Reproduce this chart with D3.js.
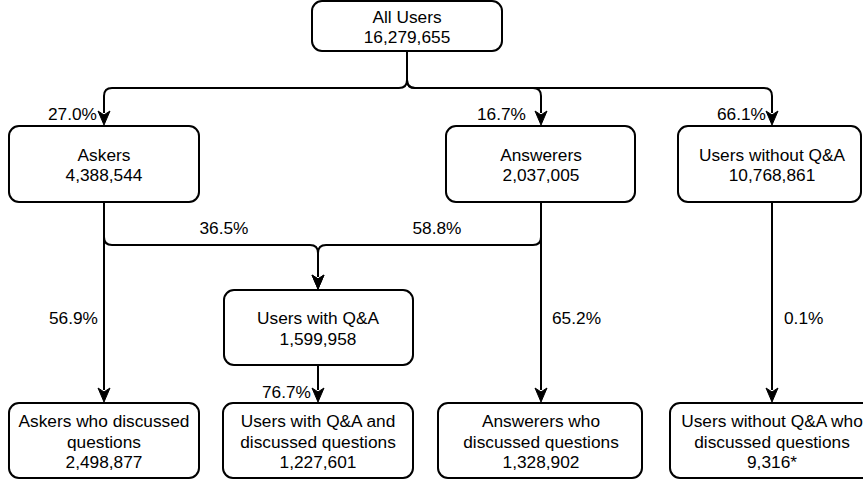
<!DOCTYPE html>
<html>
<head>
<meta charset="utf-8">
<script src="https://cdn.jsdelivr.net/npm/d3@7"></script>
<style>
  html, body { margin: 0; padding: 0; background: #ffffff; }
  svg { display: block; }
  text { font-family: "Liberation Sans", Arial, Helvetica, sans-serif; fill: #000; }
</style>
</head>
<body>
<svg id="chart" width="863" height="484"></svg>
<script>
// ---------------- DATA ----------------
const nodeLabels = [
  "All Users",
  "Askers",
  "Answerers",
  "Users without Q&A",
  "Users with Q&A",
  "Askers who discussed\nquestions",
  "Users with Q&A and\ndiscussed questions",
  "Answerers who\ndiscussed questions",
  "Users without Q&A who\ndiscussed questions"
];
const nodeCounts = [16279655, 4388544, 2037005, 10768861, 1599958, 2498877, 1227601, 1328902, 9316];
const nodeNotes  = ["", "", "", "", "", "", "", "", "*"];

const edgeSources  = [0, 0, 0, 1, 2, 1, 4, 2, 3];
const edgeTargets  = [1, 2, 3, 4, 4, 5, 6, 7, 8];
const edgePercents = [27.0, 16.7, 66.1, 36.5, 58.8, 56.9, 76.7, 65.2, 0.1];

// ---------------- LAYOUT ----------------
const columns = ["askers", "qa", "root", "answerers", "noqa"];
const colX = d3.scaleOrdinal().domain(columns).range([104, 318, 407, 541, 772]);
const rows = ["top", "mid", "qa", "bottom"];
const rowY = d3.scaleOrdinal().domain(rows).range([1, 126, 290, 403]);
const rowH = d3.scaleOrdinal().domain(rows).range([50, 76, 75, 75]);

const nodeLayout = [
  { col: "root",      row: "top",    dx: -95, w: 190 },
  { col: "askers",    row: "mid",    dx: -95, w: 190 },
  { col: "answerers", row: "mid",    dx: -95, w: 189 },
  { col: "noqa",      row: "mid",    dx: -94, w: 183 },
  { col: "qa",        row: "qa",     dx: -94, w: 189 },
  { col: "askers",    row: "bottom", dx: -95, w: 190 },
  { col: "qa",        row: "bottom", dx: -95, w: 190 },
  { col: "answerers", row: "bottom", dx: -103, w: 204 },
  { col: "noqa",      row: "bottom", dx: -102, w: 204 }
];
const busY = { root: 88, merge: 245 };
const edgeLabelLayout = [
  { anchor: "end",    x: 97,  y: 114 },
  { anchor: "end",    x: 526, y: 114 },
  { anchor: "end",    x: 766, y: 114 },
  { anchor: "middle", x: 224, y: 228 },
  { anchor: "middle", x: 437, y: 228 },
  { anchor: "end",    x: 98,  y: 318 },
  { anchor: "end",    x: 311, y: 392 },
  { anchor: "start",  x: 552, y: 318 },
  { anchor: "start",  x: 784, y: 318 }
];

const FONT = 17.3;
const STROKE = 2;
const fmt = d3.format(",");
const pctFmt = d3.format(".1f");

const svg = d3.select("#chart");

function box(i) {
  const L = nodeLayout[i];
  const cx = colX(L.col);
  const y = rowY(L.row);
  const h = rowH(L.row);
  return { cx, x: cx + L.dx, y, w: L.w, h, top: y, bottom: y + h };
}

function roundedPath(pts, r) {
  let d = `M${pts[0][0]},${pts[0][1]}`;
  for (let i = 1; i < pts.length - 1; i++) {
    const [x0, y0] = pts[i - 1], [x1, y1] = pts[i], [x2, y2] = pts[i + 1];
    const l1 = Math.hypot(x1 - x0, y1 - y0), l2 = Math.hypot(x2 - x1, y2 - y1);
    const rr = Math.min(r, l1 / 2, l2 / 2);
    const ax = x1 - (x1 - x0) / l1 * rr, ay = y1 - (y1 - y0) / l1 * rr;
    const bx = x1 + (x2 - x1) / l2 * rr, by = y1 + (y2 - y1) / l2 * rr;
    d += `L${ax},${ay}Q${x1},${y1} ${bx},${by}`;
  }
  const last = pts[pts.length - 1];
  d += `L${last[0]},${last[1]}`;
  return d;
}

// ---------------- EDGES ----------------
const HEAD_L = 14, HEAD_W = 12;
const edges = edgeSources.map((s, i) => ({ s, t: edgeTargets[i], p: edgePercents[i], i }));

function route(e) {
  const S = box(e.s), T = box(e.t);
  const tipY = T.top - 1;
  if (e.s === 0) {
    return [[S.cx, S.bottom], [S.cx, busY.root], [T.cx, busY.root], [T.cx, tipY]];
  } else if (e.t === 4) {
    return [[S.cx, S.bottom], [S.cx, busY.merge], [T.cx, busY.merge], [T.cx, tipY]];
  }
  return [[S.cx, S.bottom], [T.cx, tipY]];
}

const gEdges = svg.append("g");
edges.forEach(e => {
  const pts = route(e);
  const tip = pts[pts.length - 1];
  const linePts = pts.slice(0, -1).concat([[tip[0], tip[1] - HEAD_L + 2]]);
  gEdges.append("path")
    .attr("d", roundedPath(linePts, 8))
    .attr("fill", "none")
    .attr("stroke", "#000")
    .attr("stroke-width", STROKE);
  const [tx, ty] = tip;
  gEdges.append("path")
    .attr("d", `M${tx},${ty}L${tx - HEAD_W / 2},${ty - HEAD_L}L${tx},${ty - HEAD_L * 0.72}L${tx + HEAD_W / 2},${ty - HEAD_L}Z`)
    .attr("fill", "#000")
    .attr("stroke", "#000")
    .attr("stroke-width", 1)
    .attr("stroke-linejoin", "miter");
});

svg.append("g").selectAll("text")
  .data(edges)
  .join("text")
  .attr("x", d => edgeLabelLayout[d.i].x)
  .attr("y", d => edgeLabelLayout[d.i].y)
  .attr("text-anchor", d => edgeLabelLayout[d.i].anchor)
  .attr("dominant-baseline", "central")
  .attr("font-size", FONT)
  .text(d => pctFmt(d.p) + "%");

// ---------------- NODES ----------------
const nodes = nodeLabels.map((label, i) => ({
  i,
  lines: label.split("\n").concat([fmt(nodeCounts[i]) + nodeNotes[i]])
}));

const gNodes = svg.append("g").selectAll("g")
  .data(nodes)
  .join("g");

gNodes.append("rect")
  .attr("x", d => box(d.i).x)
  .attr("y", d => box(d.i).y)
  .attr("width", d => box(d.i).w)
  .attr("height", d => box(d.i).h)
  .attr("rx", 10)
  .attr("ry", 10)
  .attr("fill", "#fff")
  .attr("stroke", "#000")
  .attr("stroke-width", STROKE);

const LINE_H = 20.7;
gNodes.each(function (d) {
  const b = box(d.i);
  const n = d.lines.length;
  const cy = b.y + b.h / 2 + 1;
  d3.select(this).selectAll("text")
    .data(d.lines)
    .join("text")
    .attr("x", b.cx)
    .attr("y", (l, k) => cy + (k - (n - 1) / 2) * LINE_H)
    .attr("text-anchor", "middle")
    .attr("dominant-baseline", "central")
    .attr("font-size", FONT)
    .text(l => l);
});
</script>
</body>
</html>
